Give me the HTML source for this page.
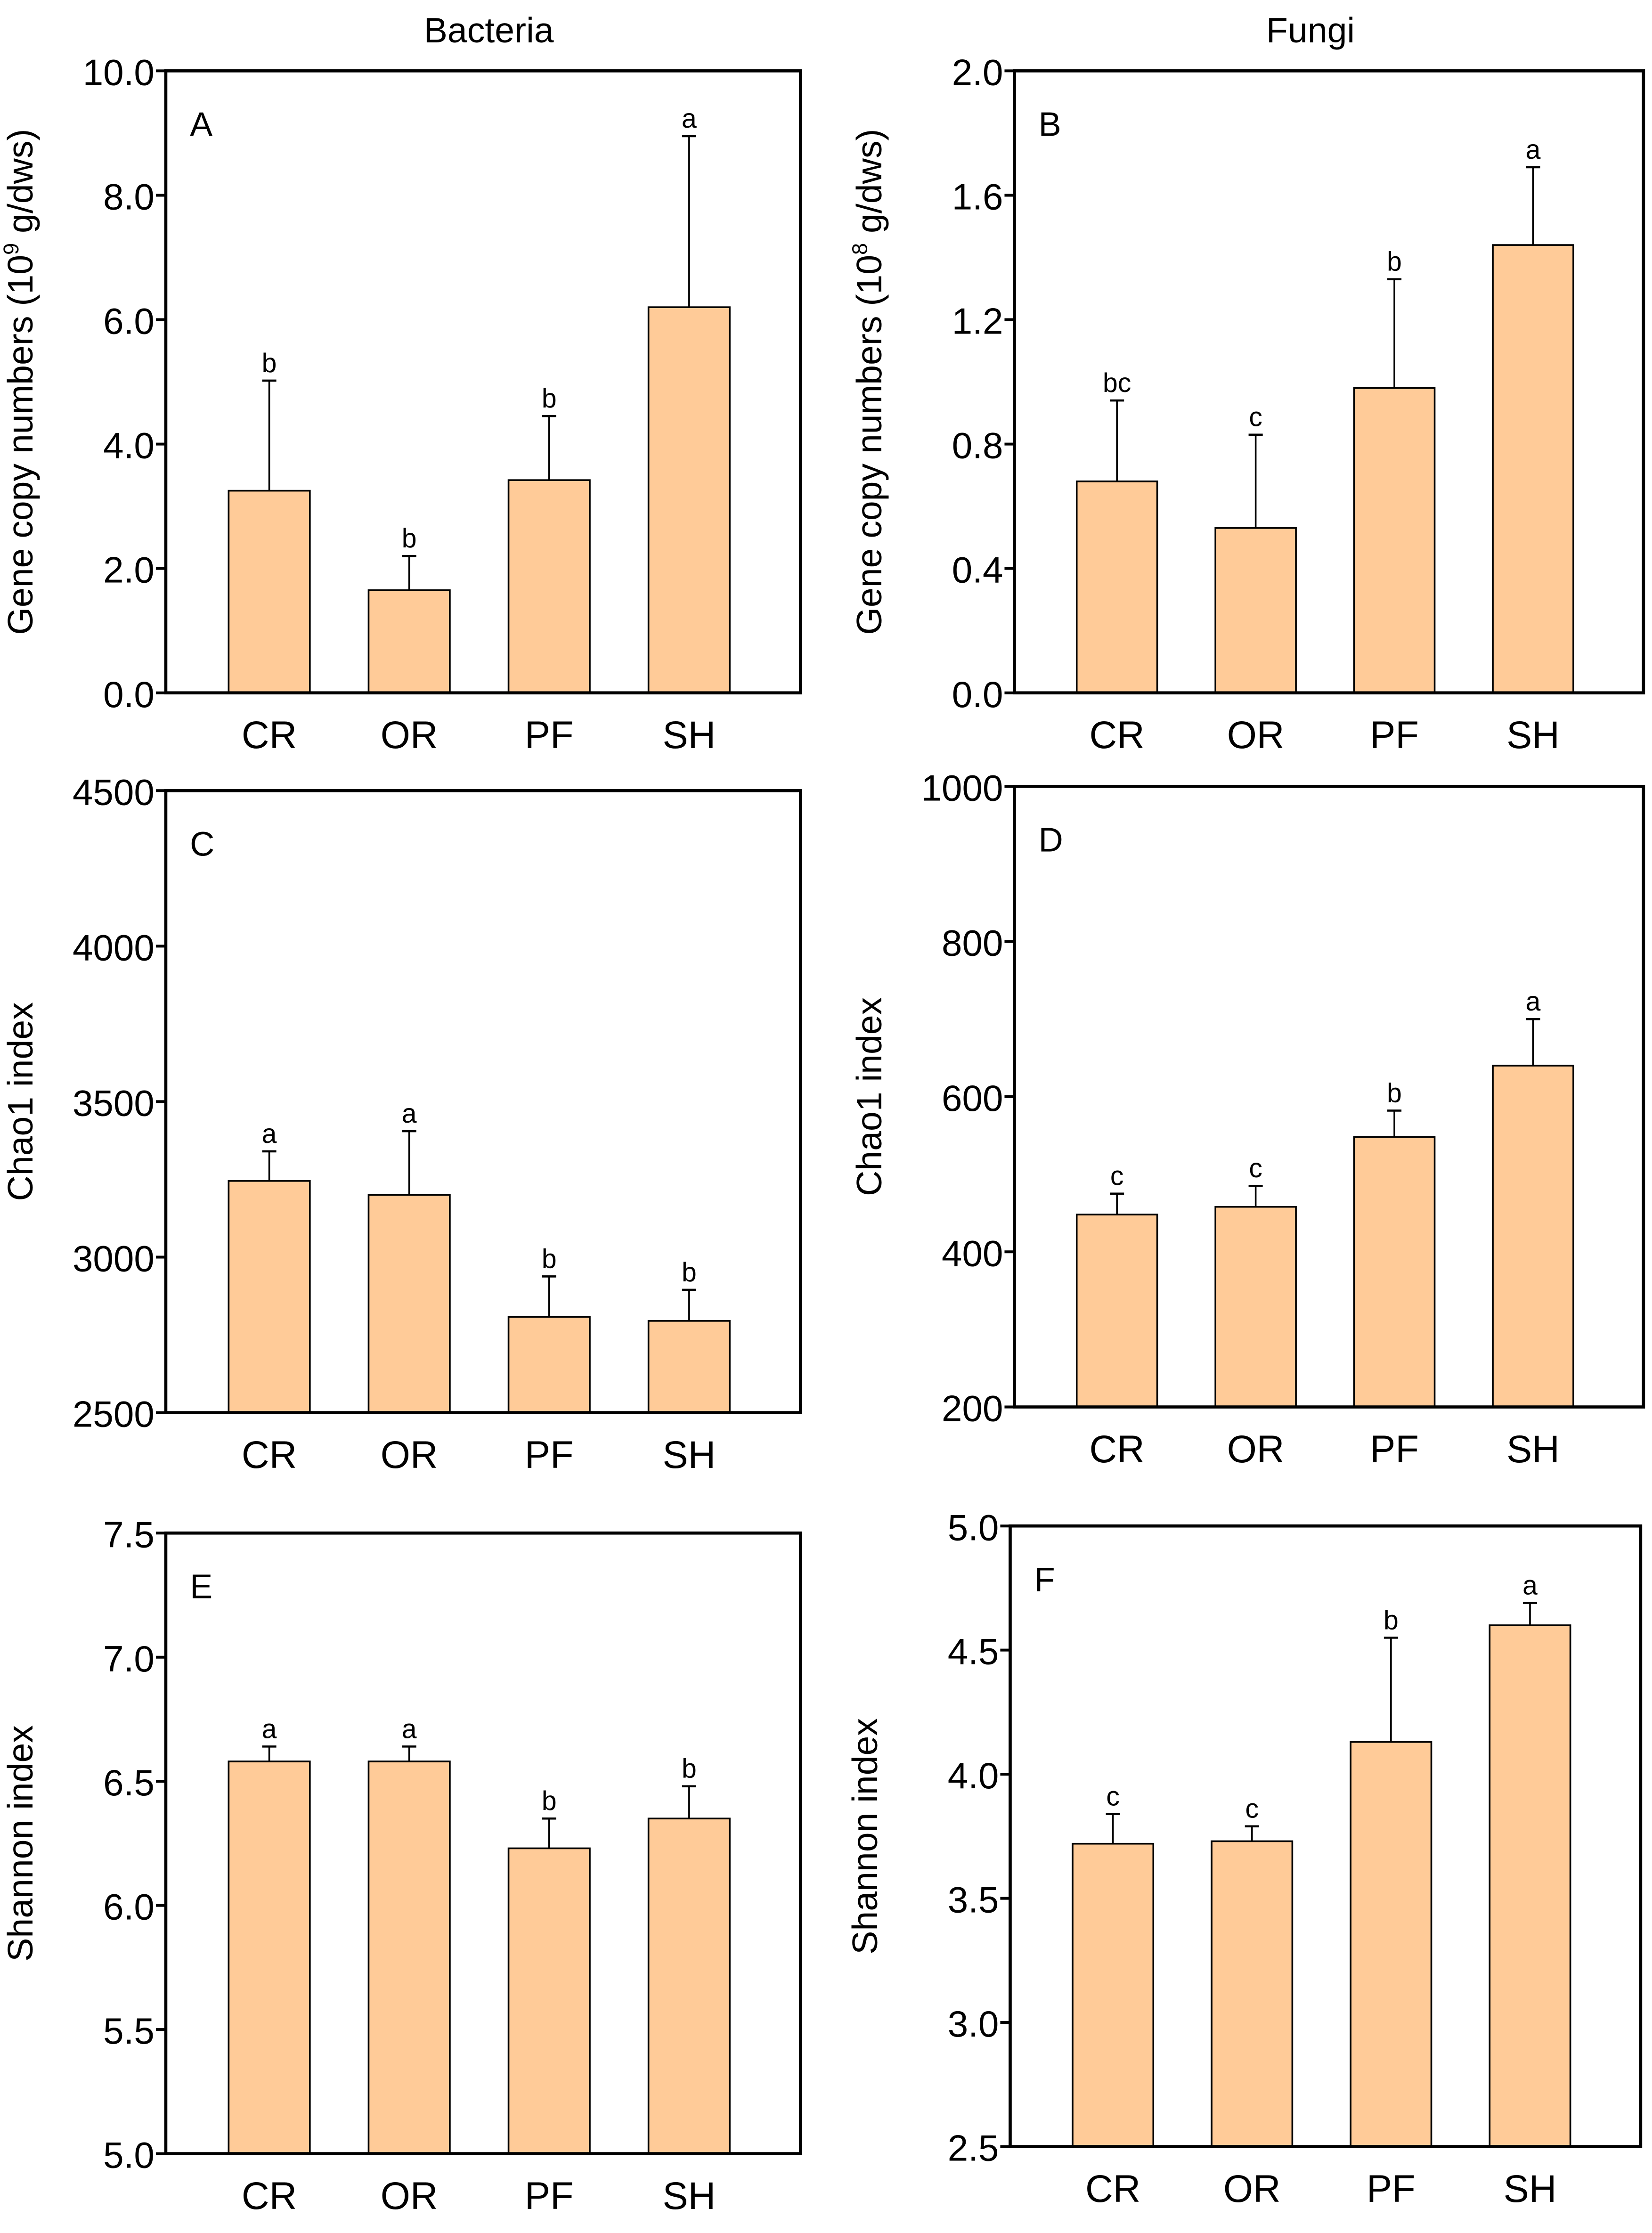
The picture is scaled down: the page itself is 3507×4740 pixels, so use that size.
<!DOCTYPE html>
<html><head><meta charset="utf-8"><style>
html,body{margin:0;padding:0;background:#fff}
svg{display:block}
text{font-family:"Liberation Sans",Arial,sans-serif;fill:#000}
</style></head><body>
<svg id="fig" width="3507" height="4740" viewBox="0 0 1166 1576" xmlns="http://www.w3.org/2000/svg">
<text x="345" y="30" font-size="25" text-anchor="middle">Bacteria</text>
<text x="925" y="30" font-size="25" text-anchor="middle">Fungi</text>
</svg>
<script>
const categories = ["CR","OR","PF","SH"];
const aValues = [3.25,1.65,3.42,6.2];
const aErr = [5.02,2.2,4.45,8.95];
const aSig = ["b","b","b","a"];
const bValues = [0.68,0.53,0.98,1.44];
const bErr = [0.94,0.83,1.33,1.69];
const bSig = ["bc","c","b","a"];
const cValues = [3245,3200,2808,2795];
const cErr = [3340,3405,2938,2895];
const cSig = ["a","a","b","b"];
const dValues = [448,458,548,640];
const dErr = [475,485,582,700];
const dSig = ["c","c","b","a"];
const eValues = [6.58,6.58,6.23,6.35];
const eErr = [6.64,6.64,6.35,6.48];
const eSig = ["a","a","b","b"];
const fValues = [3.72,3.73,4.13,4.6];
const fErr = [3.84,3.79,4.55,4.69];
const fSig = ["c","c","b","a"];
const aTicks = [0,2,4,6,8,10];
const bTicks = [0,0.4,0.8,1.2,1.6,2.0];
const cTicks = [2500,3000,3500,4000,4500];
const dTicks = [200,400,600,800,1000];
const eTicks = [5.0,5.5,6.0,6.5,7.0,7.5];
const fTicks = [2.5,3.0,3.5,4.0,4.5,5.0];

const NS="http://www.w3.org/2000/svg";
const svg=document.getElementById('fig');
function mk(tag,attrs,parent){const e=document.createElementNS(NS,tag);for(const k in attrs)e.setAttribute(k,attrs[k]);(parent||svg).appendChild(e);return e;}

function panel(id,box,ticks,dec,vals,errs,sig,letter,ytitle,sup){
  const g=mk('g',{});
  
  
  const min=ticks[0],max=ticks[ticks.length-1];
  const y=v=>box.b-(v-min)/(max-min)*(box.b-box.t);
  const w=box.r-box.l;
  const x=i=>box.l+w*(0.163+0.2205*i);
  const bw=w*0.128;
  vals.forEach((v,i)=>{
    const cx=x(i);
    const eb=mk('line',{x1:cx,x2:cx,y1:y(v),y2:y(errs[i]),stroke:'#000','stroke-width':1.2},g);
    
    
    const cap=mk('line',{x1:cx-5,x2:cx+5,y1:y(errs[i]),y2:y(errs[i]),stroke:'#000','stroke-width':1.5},g);
    
    
    const r=mk('rect',{x:cx-bw/2,y:y(v),width:bw,height:box.b-y(v),fill:'#FFCB98',stroke:'#000','stroke-width':1.2},g);
    
    
    const s=mk('text',{x:cx,y:y(errs[i])-6,'font-size':19,'text-anchor':'middle'},g);
    s.textContent=sig[i];
    
    
    const xl=mk('text',{x:cx,y:box.b+39,'font-size':27,'text-anchor':'middle'},g);
    xl.textContent=categories[i];
    
    
  });
  const fr=mk('rect',{x:box.l,y:box.t,width:w,height:box.b-box.t,fill:'none',stroke:'#000','stroke-width':2.2},g);
  
  
  ticks.forEach(t=>{
    const tl=mk('line',{x1:box.l-7,x2:box.l,y1:y(t),y2:y(t),stroke:'#000','stroke-width':2},g);
    
    
    const tt=mk('text',{x:box.l-8,y:y(t)+10,'font-size':26,'text-anchor':'end'},g);
    tt.textContent=t.toFixed(dec);
    
    
  });
  const pl=mk('text',{x:box.l+17,y:box.t+46,'font-size':24},g);
  pl.textContent=letter;
  
  
  const cy=(box.t+box.b)/2, tx=box.l-94;
  const yt=mk('text',{x:tx,y:cy,'font-size':25,'text-anchor':'middle',transform:`rotate(-90 ${tx} ${cy})`},g);
  
  
  if(sup){
    yt.appendChild(document.createTextNode('Gene copy numbers (10'));
    const ts=document.createElementNS(NS,'tspan');ts.setAttribute('dy','-10');ts.setAttribute('font-size','15');ts.textContent=sup;yt.appendChild(ts);
    const ts2=document.createElementNS(NS,'tspan');ts2.setAttribute('dy','10');ts2.textContent=' g/dws)';yt.appendChild(ts2);
  } else yt.textContent=ytitle;
}
panel('a',{l:117,r:565,t:50,b:489},aTicks,1,aValues,aErr,aSig,'A','',"9");
panel('b',{l:716,r:1160,t:50,b:489},bTicks,1,bValues,bErr,bSig,'B','',"8");
panel('c',{l:117,r:565,t:558,b:997},cTicks,0,cValues,cErr,cSig,'C','Chao1 index');
panel('d',{l:716,r:1160,t:555,b:993},dTicks,0,dValues,dErr,dSig,'D','Chao1 index');
panel('e',{l:117,r:565,t:1082,b:1520},eTicks,1,eValues,eErr,eSig,'E','Shannon index');
panel('f',{l:713,r:1158,t:1077,b:1515},fTicks,1,fValues,fErr,fSig,'F','Shannon index');
</script>
</body></html>
